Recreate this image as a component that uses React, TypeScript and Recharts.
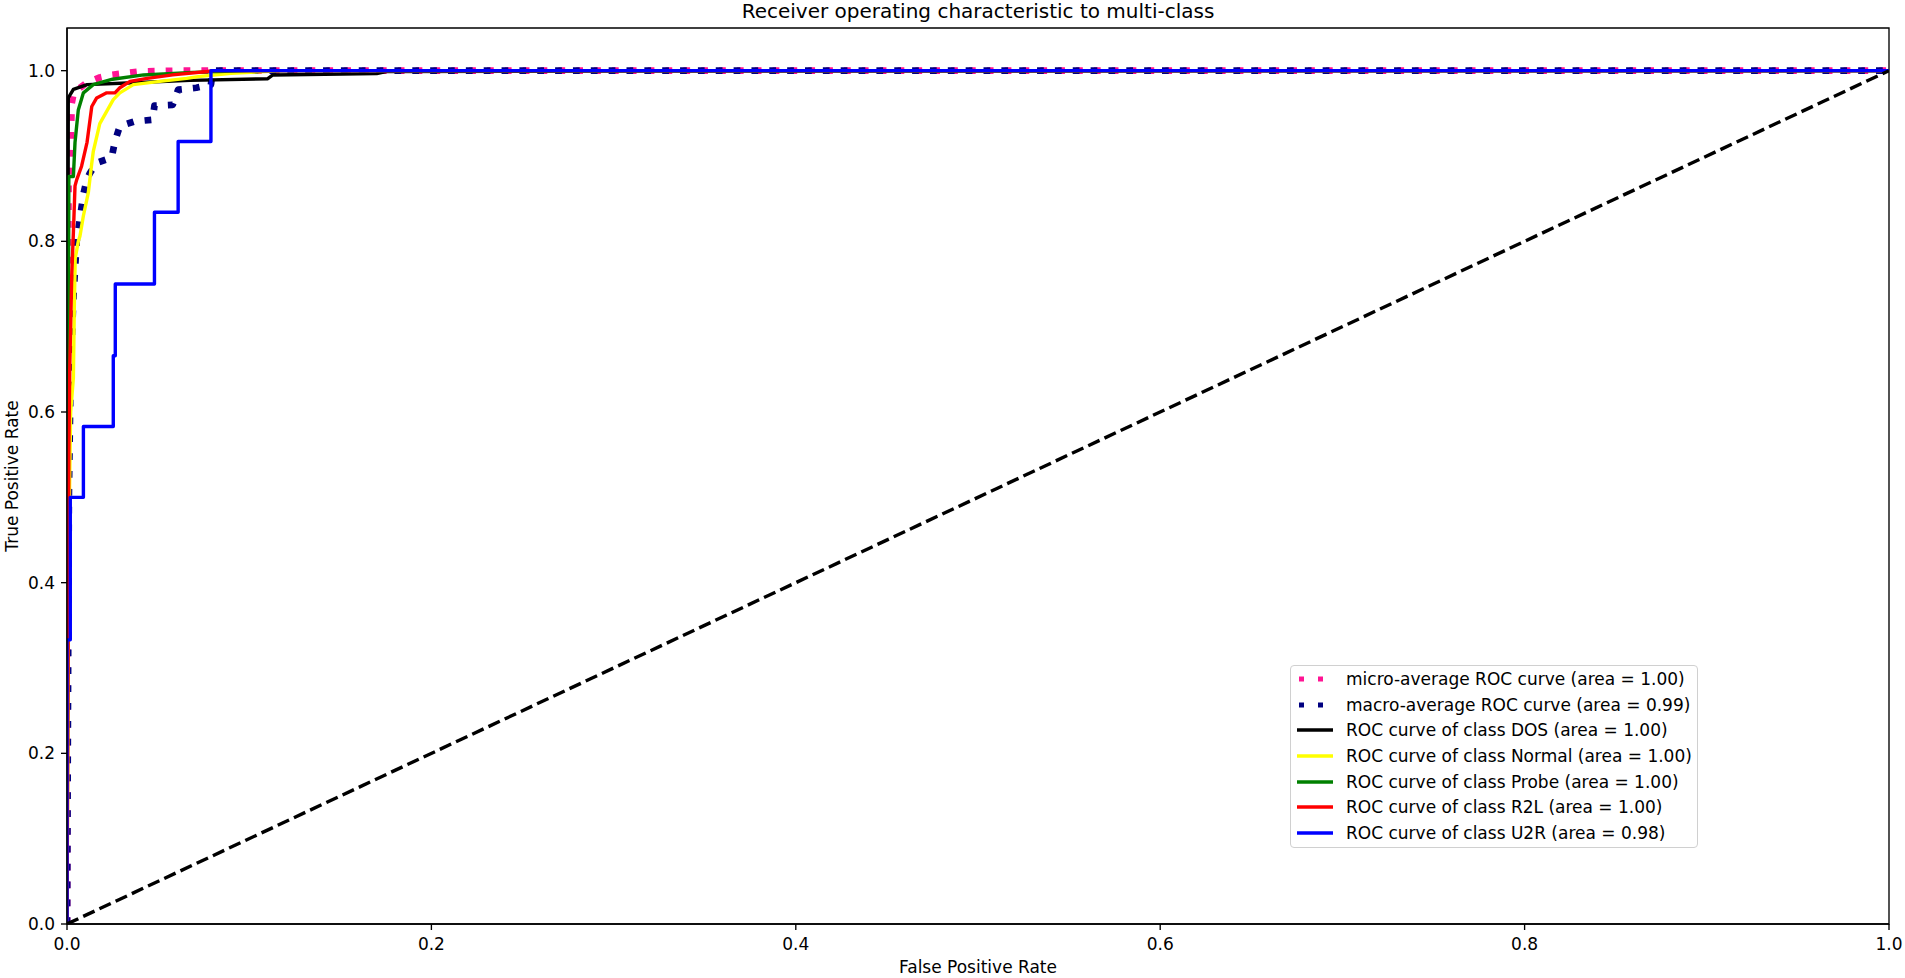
import React from 'react';
import { LineChart, Line, XAxis, YAxis, ReferenceArea, Legend } from 'recharts';

const FONT = '"DejaVu Sans", "Liberation Sans", sans-serif';

const chartTitle = 'Receiver operating characteristic to multi-class';
const xLabel = 'False Positive Rate';
const yLabel = 'True Positive Rate';

const xTicks = [0, 0.2, 0.4, 0.6, 0.8, 1.0];
const yTicks = [0, 0.2, 0.4, 0.6, 0.8, 1.0];

// micro-average
const microFpr = [0, 0.0008, 0.0016, 0.0022, 0.0026, 0.0035, 0.0053, 0.011, 0.018, 0.024, 0.04, 0.06, 1];
const microTpr = [0, 0.87, 0.88, 0.93, 0.962, 0.972, 0.977, 0.986, 0.992, 0.995, 0.999, 1, 1];
const microArea = 1.0;

// macro-average
const macroFpr = [0, 0.001, 0.002, 0.0035, 0.0053, 0.0062, 0.009, 0.0108, 0.0126, 0.0163, 0.0245, 0.0263, 0.029, 0.037, 0.047, 0.048, 0.058, 0.061, 0.071, 0.079, 0.08, 1];
const macroTpr = [0, 0.5, 0.65, 0.734, 0.8, 0.8136, 0.855, 0.872, 0.88, 0.892, 0.898, 0.917, 0.935, 0.9405, 0.9425, 0.959, 0.96, 0.9777, 0.98, 0.9836, 1, 1];
const macroArea = 0.99;

// per class
const classNames = ['DOS', 'Normal', 'Probe', 'R2L', 'U2R'];
const classAreas = [1.0, 1.0, 1.0, 1.0, 0.98];

const dosFpr = [0, 0.0007, 0.0035, 0.011, 0.033, 0.0675, 0.11, 0.113, 0.17, 0.175, 0.3, 1];
const dosTpr = [0, 0.968, 0.978, 0.9836, 0.9855, 0.9886, 0.9905, 0.995, 0.9965, 0.999, 0.9995, 1];

const normalFpr = [0, 0.001, 0.002, 0.0035, 0.004, 0.0045, 0.0062, 0.0071, 0.009, 0.0117, 0.0135, 0.0144, 0.018, 0.0254, 0.029, 0.0364, 0.051, 0.0657, 0.072, 0.09, 0.12, 1];
const normalTpr = [0, 0.45, 0.6, 0.64, 0.72, 0.78, 0.8, 0.806, 0.83, 0.857, 0.89, 0.905, 0.938, 0.966, 0.974, 0.9836, 0.9875, 0.991, 0.993, 0.997, 1, 1];

const probeFpr = [0, 0.001, 0.0035, 0.0044, 0.0062, 0.009, 0.0144, 0.025, 0.042, 0.069, 0.1, 1];
const probeTpr = [0, 0.876, 0.876, 0.916, 0.954, 0.974, 0.9836, 0.99, 0.995, 0.998, 1, 1];

const r2lFpr = [0, 0.001, 0.0015, 0.0026, 0.0035, 0.0044, 0.0053, 0.008, 0.011, 0.0136, 0.0163, 0.0218, 0.0263, 0.029, 0.0346, 0.044, 0.058, 0.077, 0.08, 1];
const r2lTpr = [0, 0.55, 0.65, 0.76, 0.81, 0.865, 0.872, 0.888, 0.916, 0.958, 0.968, 0.974, 0.974, 0.98, 0.9875, 0.991, 0.995, 0.999, 1, 1];

const u2rFpr = [0, 0, 0.0018, 0.0018, 0.009, 0.009, 0.0254, 0.0254, 0.0265, 0.0265, 0.048, 0.048, 0.061, 0.061, 0.079, 0.079, 1];
const u2rTpr = [0, 0.333, 0.333, 0.5, 0.5, 0.583, 0.583, 0.666, 0.666, 0.75, 0.75, 0.834, 0.834, 0.917, 0.917, 1, 1];

// chance diagonal
const diagFpr = [0, 1];
const diagTpr = [0, 1];

const zip = (xs: number[], ys: number[]) => xs.map((x, i) => ({ x, y: ys[i] }));

type Series = {
  key: string;
  label: string;
  color: string;
  width: number;
  dash?: string;
  data: { x: number; y: number }[];
};

const series: Series[] = [
  { key: 'micro', label: `micro-average ROC curve (area = ${microArea.toFixed(2)})`, color: '#ff1493', width: 6.75, dash: '6.75 11.1', data: zip(microFpr, microTpr) },
  { key: 'macro', label: `macro-average ROC curve (area = ${macroArea.toFixed(2)})`, color: '#000080', width: 6.75, dash: '6.75 11.1', data: zip(macroFpr, macroTpr) },
  { key: 'dos', label: `ROC curve of class ${classNames[0]} (area = ${classAreas[0].toFixed(2)})`, color: '#000000', width: 3.4, data: zip(dosFpr, dosTpr) },
  { key: 'normal', label: `ROC curve of class ${classNames[1]} (area = ${classAreas[1].toFixed(2)})`, color: '#ffff00', width: 3.4, data: zip(normalFpr, normalTpr) },
  { key: 'probe', label: `ROC curve of class ${classNames[2]} (area = ${classAreas[2].toFixed(2)})`, color: '#008000', width: 3.4, data: zip(probeFpr, probeTpr) },
  { key: 'r2l', label: `ROC curve of class ${classNames[3]} (area = ${classAreas[3].toFixed(2)})`, color: '#ff0000', width: 3.4, data: zip(r2lFpr, r2lTpr) },
  { key: 'u2r', label: `ROC curve of class ${classNames[4]} (area = ${classAreas[4].toFixed(2)})`, color: '#0000ff', width: 3.4, data: zip(u2rFpr, u2rTpr) },
];

const diagonal = zip(diagFpr, diagTpr);

const W = 1905;
const H = 978;

const renderLegend = () => (
  <div
    style={{
      boxSizing: 'border-box',
      width: 408,
      height: 183,
      background: 'rgba(255,255,255,0.8)',
      border: '1px solid #d0d0d0',
      borderRadius: 4,
      paddingTop: 0,
      fontFamily: FONT,
      fontSize: 17,
      color: '#000',
    }}
  >
    {series.map((s) => (
      <div key={s.key} style={{ display: 'flex', alignItems: 'center', height: 25.7, whiteSpace: 'nowrap' }}>
        <svg width={36} height={10} style={{ marginLeft: 6, flex: 'none' }}>
          <line
            x1={0}
            y1={5}
            x2={36}
            y2={5}
            stroke={s.color}
            strokeWidth={s.dash ? 5 : 3.4}
            strokeDasharray={s.dash ? '5 14' : undefined}
            strokeDashoffset={s.dash ? -2 : undefined}
          />
        </svg>
        <span style={{ marginLeft: 13, lineHeight: '20px' }}>{s.label}</span>
      </div>
    ))}
  </div>
);

const YLabel = (props: any) => {
  const vb = props.viewBox || { x: 0, y: 28, width: 67, height: 896 };
  const cx = 18;
  const cy = vb.y + vb.height / 2;
  return (
    <text
      x={cx}
      y={cy}
      transform={`rotate(-90 ${cx} ${cy})`}
      textAnchor="middle"
      fontFamily={FONT}
      fontSize={17}
      fill="#000"
    >
      {yLabel}
    </text>
  );
};

const XLabel = (props: any) => {
  const vb = props.viewBox || { x: 67, y: 924, width: 1822, height: 54 };
  return (
    <text x={vb.x + vb.width / 2} y={vb.y + 49} textAnchor="middle" fontFamily={FONT} fontSize={17} fill="#000">
      {xLabel}
    </text>
  );
};

export default function App() {
  const tickStyle = { fill: '#000', fontSize: 17, fontFamily: FONT };
  return (
    <div style={{ position: 'fixed', left: 0, top: 0, width: W, height: H, background: '#fff' }}>
      <LineChart width={W} height={H} margin={{ top: 28, right: 16, bottom: 0, left: 7 }}>
        <XAxis
          type="number"
          dataKey="x"
          domain={[0, 1]}
          ticks={xTicks}
          tickFormatter={(v: number) => v.toFixed(1)}
          height={54}
          tickSize={6}
          tickMargin={8}
          stroke="#000"
          strokeWidth={1.35}
          tick={tickStyle}
          allowDataOverflow
          label={{ content: XLabel }}
        />
        <YAxis
          type="number"
          dataKey="y"
          domain={[0, 1.05]}
          ticks={yTicks}
          tickFormatter={(v: number) => v.toFixed(1)}
          width={60}
          tickSize={6}
          tickMargin={6}
          stroke="#000"
          strokeWidth={1.35}
          tick={tickStyle}
          allowDataOverflow
          label={{ content: YLabel }}
        />
        <ReferenceArea x1={0} x2={1} y1={0} y2={1.05} fill="none" fillOpacity={0} stroke="#000" strokeWidth={1.35} />
        {series.map((s) => (
          <Line
            key={s.key}
            name={s.label}
            data={s.data}
            dataKey="y"
            type="linear"
            stroke={s.color}
            strokeWidth={s.width}
            strokeDasharray={s.dash}
            strokeLinejoin="round"
            dot={false}
            activeDot={false}
            isAnimationActive={false}
          />
        ))}
        <Line
          key="diag"
          name="chance"
          data={diagonal}
          dataKey="y"
          type="linear"
          stroke="#000"
          strokeWidth={3.4}
          strokeDasharray="12.5 5.4"
          dot={false}
          activeDot={false}
          isAnimationActive={false}
          legendType="none"
        />
        <Legend
          layout="vertical"
          align="center"
          verticalAlign="middle"
          content={renderLegend}
          wrapperStyle={{ left: 1290, top: 665, width: 408, height: 183 }}
        />
      </LineChart>
      <svg width={W} height={30} style={{ position: 'absolute', left: 0, top: 0, pointerEvents: 'none' }}>
        <text x={978} y={17.7} textAnchor="middle" fontFamily={FONT} fontSize={20} fill="#000">
          {chartTitle}
        </text>
      </svg>
    </div>
  );
}
